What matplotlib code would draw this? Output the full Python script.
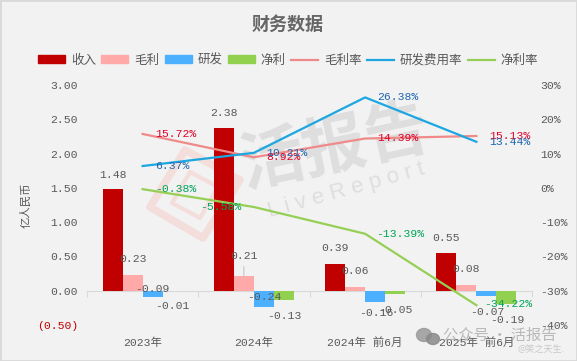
import matplotlib
matplotlib.use("Agg")
import matplotlib.pyplot as plt
from matplotlib.patches import Patch, Ellipse, Polygon
from matplotlib.lines import Line2D

W, H = 577, 361
FONT = ["Liberation Mono", "Noto Sans CJK SC", "DejaVu Sans"]
plt.rcParams["font.family"] = FONT

categories = ["2023年", "2024年", "2024年 前6月", "2025年 前6月"]
revenue = [1.48, 2.38, 0.39, 0.55]
gross = [0.23, 0.21, 0.06, 0.08]
rnd = [-0.09, -0.24, -0.16, -0.07]
net = [-0.01, -0.13, -0.05, -0.19]
gross_rate = [15.72, 8.92, 14.39, 15.13]
rnd_rate = [6.37, 10.21, 26.38, 13.44]
net_rate = [-0.38, -5.58, -13.39, -34.22]
left_ticks = [-0.5, 0, 0.5, 1, 1.5, 2, 2.5, 3]
right_ticks = [-40, -30, -20, -10, 0, 10, 20, 30]

BG = "#f2f2f2"
GREY = "#595959"
C_REV, C_GROSS, C_RND, C_NET = "#c00000", "#ffa9a9", "#4db0ff", "#92d050"
L_GROSS, L_RND, L_NET = "#f08a8a", "#1ca7e0", "#96cf55"
T_RED, T_BLUE, T_GREEN = "#e0002a", "#1f66ad", "#00a45a"
SIZE = 8.2

fig = plt.figure(figsize=(W / 100, H / 100), dpi=100, facecolor=BG)
ax = fig.add_axes([87 / W, 1 - 325 / H, 445 / W, 240 / H])
ax.set_facecolor("none")
ax2 = ax.twinx()
ax2.set_facecolor("none")
ax.set_zorder(1)
ax2.set_zorder(2)

# border of the picture
fig.add_artist(plt.Rectangle((0, 0), 1, 1, transform=fig.transFigure, fill=False,
                             ec="#d9d9d9", lw=2))


def px(xp, yp):
    # reference pixels to figure fraction
    return xp / W, 1 - yp / H


# watermark in the plot
fig.text(*px(335, 148), "活报告", color="#dedede", fontsize=46, weight="bold",
         rotation=12, ha="center", va="center", family="Noto Sans CJK SC", zorder=0)
fig.text(*px(346, 190), "L i v e R e p o r t", color="#dedede", fontsize=16,
         rotation=15.5, ha="center", va="center", family="Liberation Sans", zorder=0)
fig.add_artist(Polygon([px(150, 207), px(185, 150), px(240, 180), px(203, 238)], closed=True,
                       transform=fig.transFigure, fill=False, ec="#f3dedb", lw=5.5,
                       joinstyle="round", zorder=0))
fig.add_artist(Polygon([px(172, 203), px(190, 172), px(218, 187), px(200, 218)], closed=True,
                       transform=fig.transFigure, fill=False, ec="#f3dedb", lw=3,
                       joinstyle="round", zorder=0))

x = list(range(len(categories)))
w = 0.18
for off, vals, col in [(-1.5, revenue, C_REV), (-0.5, gross, C_GROSS),
                       (0.5, rnd, C_RND), (1.5, net, C_NET)]:
    ax.bar([i + off * w for i in x], vals, w, color=col, zorder=3)

ax.set_xlim(-0.5, 3.5)
ax.set_ylim(-0.5, 3)
ax.set_yticks(left_ticks)
ax.set_yticklabels(["(0.50)" if v < 0 else f"{v:.2f}" for v in left_ticks], fontsize=SIZE, color=GREY)
ax.get_yticklabels()[0].set_color("#c00000")
ax.tick_params(axis="y", length=0, pad=6.5)
ax.set_xticks([-0.5, 0.5, 1.5, 2.5, 3.5])
ax.set_xticklabels([])
ax.tick_params(axis="x", length=4, color="#d9d9d9", width=0.8)
for s in ["top", "left", "right"]:
    ax.spines[s].set_visible(False)
    ax2.spines[s].set_visible(False)
ax2.spines["bottom"].set_visible(False)
ax.spines["bottom"].set_position(("data", 0))
ax.spines["bottom"].set_color("#d9d9d9")

ax2.plot(x, gross_rate, color=L_GROSS, lw=1.6)
ax2.plot(x, rnd_rate, color=L_RND, lw=1.6)
ax2.plot(x, net_rate, color=L_NET, lw=1.6)
ax2.set_ylim(-40, 30)
ax2.set_yticks(right_ticks)
ax2.set_yticklabels([f"{v}%" for v in right_ticks], fontsize=SIZE, color=GREY)
ax2.tick_params(axis="y", length=0, pad=6)


def label(axis, xv, val, text, dx, dy, color=GREY):
    # offsets are in reference pixels
    axis.annotate(text, (xv, val), xytext=(dx * 0.72, dy * 0.72), textcoords="offset points",
                  ha="center", va="center", fontsize=SIZE, color=color, zorder=6)


bar_offsets = {
    "rev": [(0, 14), (0, 15), (0, 16), (0, 15)],
    "gross": [(0, 16), (0, 20), (0, 16), (0, 16)],
    "rnd": [(0, 8), (0, 10), (1, -11), (1, -16)],
    "net": [(0, -15), (0, -16), (0, -16), (1, -16)],
}
for i in x:
    label(ax, i - 1.5 * w, revenue[i], f"{revenue[i]:.2f}", *bar_offsets["rev"][i])
    label(ax, i - 0.5 * w, gross[i], f"{gross[i]:.2f}", *bar_offsets["gross"][i])
    label(ax, i + 0.5 * w, rnd[i], f"{rnd[i]:.2f}", *bar_offsets["rnd"][i])
    label(ax, i + 1.5 * w, net[i], f"{net[i]:.2f}", *bar_offsets["net"][i])
# leader line of the 0.21 label
ax.annotate("", (1 - 0.5 * w, gross[1]), xytext=(0, 7), textcoords="offset points",
            arrowprops=dict(arrowstyle="-", color="#bfbfbf", lw=0.7, shrinkA=0, shrinkB=0), zorder=6)

rate_offsets = {
    "gross": [(33, 0), (30, 0), (33, 1), (33, 0)],
    "rnd": [(30, 0), (33, 0), (33, 0), (33, 0)],
    "net": [(33, 0), (-33, 0), (35, 0), (32, 1)],
}
for i in x:
    label(ax2, i, gross_rate[i], f"{gross_rate[i]:.2f}%", *rate_offsets["gross"][i], color=T_RED)
    label(ax2, i, rnd_rate[i], f"{rnd_rate[i]:.2f}%", *rate_offsets["rnd"][i], color=T_BLUE)
    label(ax2, i, net_rate[i], f"{net_rate[i]:.2f}%", *rate_offsets["net"][i], color=T_GREEN)

for i, c in zip(x, categories):
    ax.annotate(c, (i, 0), xycoords=ax.get_xaxis_transform(), xytext=(0, -18 * 0.72),
                textcoords="offset points", ha="center", va="center", fontsize=SIZE, color=GREY)

fig.text(*px(26, 205), "亿人民币", rotation=90, ha="center", va="center",
         fontsize=SIZE, color=GREY)
fig.text(*px(288, 24), "财务数据", ha="center", va="center", fontsize=13,
         weight="bold", color="#666666", family="Noto Sans CJK SC")

handles = [Patch(color=C_REV), Patch(color=C_GROSS), Patch(color=C_RND), Patch(color=C_NET),
           Line2D([], [], color=L_GROSS, lw=1.6), Line2D([], [], color=L_RND, lw=1.6),
           Line2D([], [], color=L_NET, lw=1.6)]
names = ["收入", "毛利", "研发", "净利", "毛利率", "研发费用率", "净利率"]
fig.legend(handles, names, ncol=7, loc="center", bbox_to_anchor=px(288, 60.5),
           frameon=False, fontsize=9, labelcolor=GREY, handlelength=2.16, handleheight=0.6,
           handletextpad=0.45, columnspacing=0.45, borderpad=0)

# WeChat stamp over the bottom right corner
fig.add_artist(Ellipse(px(424, 335), 15 / W, 13 / H, color="#9a9a9a", alpha=0.85,
                       transform=fig.transFigure, zorder=7))
fig.add_artist(Ellipse(px(433, 339), 13 / W, 11 / H, color="#8a8a8a", alpha=0.85,
                       transform=fig.transFigure, zorder=7))
fig.text(*px(500, 335), "公众号 · 活报告", ha="center", va="center", fontsize=11,
         color="#a0a0a0", alpha=0.7, family="Noto Sans CJK SC", zorder=7)
fig.text(*px(541, 349), "@笑之天生.", ha="center", va="center", fontsize=6.5,
         color="#c8c8c8", family="Noto Sans CJK SC", zorder=7)

fig.savefig("out.png", dpi=100, facecolor=BG)
